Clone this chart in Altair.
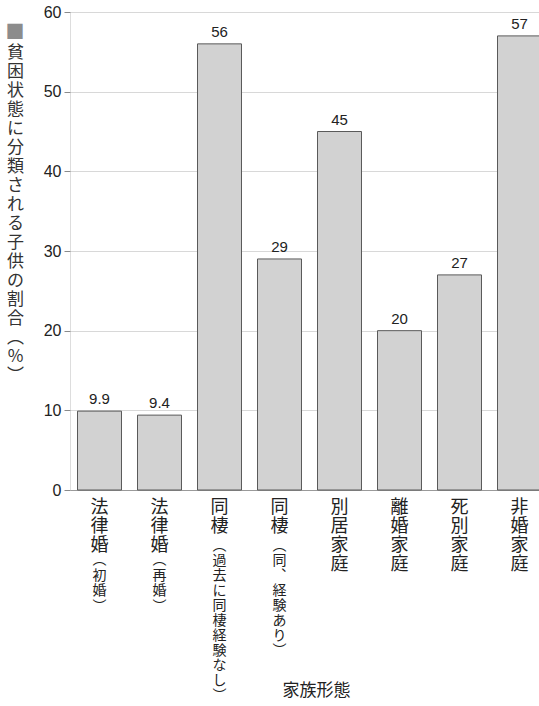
import altair as alt
import pandas as pd

main_labels = ["法律婚", "法律婚", "同棲", "同棲", "別居家庭", "離婚家庭", "死別家庭", "非婚家庭"]
sub_labels = ["︵初婚︶", "︵再婚︶", "︵過去に同棲経験なし︶", "︵同︑経験あり︶", "", "", "", ""]
values = [9.9, 9.4, 56, 29, 45, 20, 27, 57]
value_text = ["9.9", "9.4", "56", "29", "45", "20", "27", "57"]
y_title = "貧困状態に分類される子供の割合︵%︶"
legend_mark = "■"
x_title = "家族形態"

df = pd.DataFrame({
    "cat": [m + s for m, s in zip(main_labels, sub_labels)],
    "main": main_labels,
    "sub": ["\n".join(list(s)) for s in sub_labels],
    "nmain": [len(m) for m in main_labels],
    "value": values,
    "vtext": value_text,
})
order = list(df["cat"])

NUM_FONT = "Liberation Sans"
JP_FONT = "Noto Sans CJK JP"

x_enc = alt.X(
    "cat:N", sort=order,
    scale=alt.Scale(paddingInner=0.2667, paddingOuter=0.125, range=[0, 479]),
    axis=alt.Axis(
        title=x_title, titleFont=JP_FONT, titleFontSize=17, titleFontWeight="normal",
        titleColor="#222", titleX=246, titleY=200, titleBaseline="middle",
        labelExpr="split(split(datum.label, '︵')[0], '')",
        labelAngle=0, labelAlign="center", labelBaseline="top",
        labelFont=JP_FONT, labelFontSize=18, labelLineHeight=19, labelColor="#222",
        labelPadding=8, ticks=False, domainColor="#9a9a9a", grid=False,
    ),
)

y_enc = alt.Y(
    "value:Q",
    scale=alt.Scale(domain=[0, 60]),
    axis=alt.Axis(
        values=[0, 10, 20, 30, 40, 50, 60],
        title=[" "] + list(y_title), titleFont=JP_FONT, titleFontSize=17, titleFontWeight="normal",
        titleColor="#333", titleAngle=0, titleAlign="center", titleBaseline="top",
        titleLineHeight=19, titleX=-55, titleY=13,
        labelFont=NUM_FONT, labelFontSize=16, labelColor="#222", labelPadding=3,
        tickSize=6, tickColor="#8a8a8a", domain=False,
        grid=True, gridColor="#d8d8d8", gridWidth=1,
    ),
)

bars = alt.Chart(df).mark_bar(
    fill="#d2d2d2", stroke="#5a5a5a", strokeWidth=1
).encode(x=x_enc, y=y_enc)

vlabels = alt.Chart(df).mark_text(
    font=NUM_FONT, fontSize=15, color="#222", baseline="bottom", dy=-4
).encode(x=alt.X("cat:N", sort=order), y="value:Q", text="vtext:N")

sub3 = alt.Chart(df).transform_filter("datum.nmain == 3 && datum.sub != ''").mark_text(
    font=JP_FONT, fontSize=14, color="#222", baseline="top", lineBreak="\n", lineHeight=15.5, dy=63
).encode(x=alt.X("cat:N", sort=order), y=alt.datum(0), text="sub:N")

sub2 = alt.Chart(df).transform_filter("datum.nmain == 2 && datum.sub != ''").mark_text(
    font=JP_FONT, fontSize=14, color="#222", baseline="top", lineBreak="\n", lineHeight=15, dy=49
).encode(x=alt.X("cat:N", sort=order), y=alt.datum(0), text="sub:N")

square = alt.Chart(pd.DataFrame({"t": [legend_mark]})).mark_text(
    font=JP_FONT, fontSize=19, color="#8c8c8c", baseline="middle", align="center"
).encode(x=alt.value(-55), y=alt.value(21), text="t:N")

chart = alt.layer(bars, vlabels, sub3, sub2, square).properties(
    width=469, height=478,
    autosize=alt.AutoSizeParams(type="none"),
    padding={"left": 70, "top": 12, "right": 0, "bottom": 216},
).configure_view(stroke=None).configure(background="white")

chart.save("out.html", embed_options={"renderer": "svg", "actions": False})
